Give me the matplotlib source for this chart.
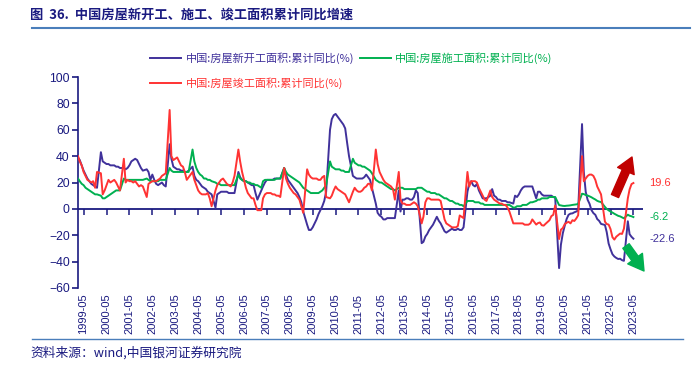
import matplotlib
matplotlib.use('Agg')
import matplotlib.pyplot as plt
import pandas as pd
from matplotlib.lines import Line2D

plt.rcParams['font.family'] = ['Liberation Sans', 'Noto Sans CJK SC', 'DejaVu Sans']

# ---------------- data (monthly, Feb..Dec each year; 2023 Feb..May) ----------------
years = list(range(1999, 2024))

new_starts = [
    39, 37, 33, 29, 26, 23, 21, 19, 18, 17, 16,            # 1999
    43, 36, 35, 34, 34, 33, 33, 33, 32, 32, 31,            # 2000
    31, 30, 31, 33, 36, 37, 38, 37, 34, 31, 29,            # 2001
    30, 28, 22, 26, 22, 19, 18, 19, 20, 18, 17,            # 2002
    49, 38, 32, 31, 30, 30, 29, 29, 28, 28, 29,            # 2003
    32, 25, 22, 21, 19, 17, 16, 15, 13, 12, 11,            # 2004
    1, 11, 12, 13, 13, 13, 13, 12, 12, 12, 12,             # 2005
    28, 24, 22, 21, 21, 20, 19, 18, 18, 12, 7,             # 2006
    14, 17, 20, 22, 22, 22, 22, 23, 23, 23, 23,            # 2007
    31, 26, 22, 20, 18, 16, 14, 12, 9, 5, -2,              # 2008
    -12, -16, -16, -14, -11, -8, -4, -1, 2, 6, 13,         # 2009
    60, 68, 71, 72, 70, 68, 66, 64, 61, 50, 40,            # 2010
    25, 24, 23, 23, 23, 23, 24, 26, 24, 22, 16,            # 2011
    4, -3, -5, -6, -8, -8, -7, -7, -7, -7, -7,             # 2012
    14, -2, 7, 7, 8, 8, 7, 7, 9, 14, 12,                   # 2013
    -26, -25, -21, -19, -16, -14, -12, -9, -6, -9, -11,    # 2014
    -17, -18, -17, -16, -15, -16, -16, -15, -16, -16, -14, # 2015
    13, 19, 21, 18, 17, 19, 14, 11, 8, 8, 8,               # 2016
    10, 15, 10, 9, 7, 7, 6, 6, 6, 5, 5,                    # 2017
    4, 10, 9, 11, 14, 16, 17, 17, 17, 17, 17,              # 2018
    8, 13, 13, 11, 10, 10, 10, 10, 10, 9, 8.5,             # 2019
    -44.9, -27.2, -18.4, -12.8, -7.6, -4.5, -3.6, -3.4, -2.6, -2.0, -1.2,   # 2020
    64.3, 28.2, 12.8, 6.9, 3.8, -0.9, -3.2, -4.5, -7.7, -9.1, -11.4,        # 2021
    -12.2, -17.5, -26.3, -30.6, -34.4, -36.1, -37.2, -38.0, -37.8, -38.9, -39.4,  # 2022
    -9.4, -19.2, -21.2, -22.6,                             # 2023
]

under_construction = [
    23, 21, 19, 18, 16, 15, 14, 13, 12, 11, 11,
    10, 8, 8, 9, 10, 11, 12, 13, 14, 14, 14,
    23, 22, 22, 22, 22, 22, 22, 22, 22, 22, 22,
    23, 22, 21, 21, 21, 21, 21, 22, 22, 22, 22,
    31, 29, 28, 28, 28, 28, 28, 28, 28, 28, 28,
    45, 36, 31, 28, 26, 25, 23, 23, 22, 22, 21,
    20, 19, 19, 18, 18, 18, 18, 18, 18, 18, 18,
    26, 23, 22, 21, 21, 20, 20, 19, 19, 18, 18,
    16, 21, 22, 22, 22, 22, 22, 22, 23, 23, 23,
    31, 28, 26, 25, 24, 23, 22, 21, 20, 18, 16,
    14, 13, 12, 12, 12, 12, 12, 13, 14, 16, 18,
    36, 32, 31, 30, 30, 30, 29, 29, 28, 28, 28,
    38, 35, 34, 33, 33, 32, 32, 31, 30, 29, 27,
    22, 21, 20, 20, 19, 18, 17, 16, 15, 15, 14,
    16, 16, 16, 15, 15, 15, 15, 15, 15, 15, 16,
    16, 15, 14, 13, 13, 12, 12, 12, 11, 11, 10,
    8, 8, 7, 6, 6, 5, 4, 4, 3, 3, 2,
    6, 6, 6, 6, 5, 5, 5, 4, 4, 3, 3,
    3, 3, 3, 3, 3, 3, 3, 3, 3, 3, 3,
    1, 1, 2, 2, 2, 3, 3, 3, 4, 5, 5,
    6, 7, 7, 8, 8, 8, 8, 9, 9, 9, 9,
    2.9, 2.6, 2.3, 2.2, 2.4, 2.5, 2.7, 3.0, 3.2, 3.4, 3.7,
    11.5, 11.2, 10.5, 10.1, 9.5, 8.8, 7.9, 7.1, 6.1, 5.5, 5.2,
    1.5, 0.0, -1.1, -2.0, -2.8, -3.7, -4.5, -5.3, -5.7, -6.5, -7.2,
    -4.4, -5.2, -5.6, -6.2,
]

completed = [
    40, 36, 33, 28, 25, 22, 21, 20, 21, 16, 28,
    27, 11, 14, 18, 22, 20, 21, 22, 20, 17, 14,
    38, 20, 22, 21, 21, 20, 21, 19, 17, 18, 17,
    9, 19, 20, 21, 21, 21, 22, 23, 25, 26, 27,
    75, 40, 37, 38, 39, 36, 33, 32, 28, 22, 24,
    28, 22, 18, 14, 12, 11, 11, 11, 12, 8, 2,
    14, 18, 20, 22, 23, 21, 19, 18, 17, 20, 25,
    45, 36, 28, 22, 16, 12, 10, 8, 8, 3, -1,
    -1, 8, 11, 12, 12, 12, 11, 11, 10, 10, 9,
    31, 23, 19, 16, 14, 12, 11, 9, 7, 2, -3,
    30, 26, 24, 23, 23, 23, 22, 22, 24, 25, 9,
    8, 10, 14, 17, 15, 14, 13, 12, 11, 8, 5,
    13, 16, 14, 13, 13, 14, 16, 17, 19, 19, 14,
    45, 34, 28, 25, 22, 20, 19, 18, 17, 15, 7,
    28, 7, 4, 4, 3, 3, 3, 4, 5, 4, 2,
    -11, -6, 5, 8, 8, 7, 7, 7, 7, 7, 6,
    -8, -11, -12, -13, -14, -14, -14, -13, -5, -6, -7,
    28, 17, 21, 21, 21, 20, 16, 13, 10, 7, 6,
    14, 9, 7, 6, 5, 4, 4, 3, 3, 1, -2,
    -11, -11, -11, -11, -11, -11, -12, -12, -12, -11, -8,
    -11.9, -10.8, -10.3, -12.4, -12.7, -11.3, -10.0, -8.6, -5.5, -4.5, 2.6,
    -22.9, -15.8, -14.5, -11.6, -10.5, -9.8, -11.0, -8.6, -9.2, -7.3, -4.9,
    40, 21, 23, 25, 26, 26, 25, 22, 17, 14, 11,
    -9.7, -11.5, -11.9, -15.3, -21.5, -23.3, -21.1, -19.9, -18.7, -19.0, -15.0,
    8.0, 14.7, 18.8, 19.6,
]

labels = ['中国:房屋新开工面积:累计同比(%)',
          '中国:房屋施工面积:累计同比(%)',
          '中国:房屋竣工面积:累计同比(%)']
tick_labels = [f'{y}-05' for y in years]
title = '图  36.  中国房屋新开工、施工、竣工面积累计同比增速'
source = '资料来源：wind,中国银河证券研究院'

dates = [pd.Timestamp(y, m, 1) for y in years for m in range(2, 13)
         if not (y == 2023 and m > 5)]
tick_dates = [pd.Timestamp(y, 5, 1) for y in years]

# ---------------- styling ----------------
BLUE = '#40319B'
GREEN = '#00B050'
RED = '#FF3333'
NAVY = '#1A1A80'
RULE = '#4A7EBB'
CJK = ['Noto Sans CJK SC', 'DejaVu Sans']

fig = plt.figure(figsize=(6.97, 3.65), dpi=100)
W, H = 697, 365
ax = fig.add_axes([78 / W, 1 - 288 / H, (643 - 78) / W, (288 - 77) / H])

l1, = ax.plot(dates, new_starts, color=BLUE, lw=1.4, zorder=3)
l2, = ax.plot(dates, under_construction, color=GREEN, lw=1.4, zorder=3)
l3, = ax.plot(dates, completed, color=RED, lw=1.4, zorder=4)

ax.set_ylim(-60, 100)
ax.set_xlim(pd.Timestamp(1999, 2, 1), pd.Timestamp(2023, 10, 1))
ax.set_yticks(range(-60, 101, 20))
ax.set_xticks(tick_dates)
ax.set_xticklabels(tick_labels, rotation=90, fontsize=8, color=NAVY)
for s in ['top', 'right', 'bottom']:
    ax.spines[s].set_visible(False)
ax.spines['left'].set_color(NAVY)
ax.spines['left'].set_linewidth(1.2)
ax.tick_params(axis='y', colors=NAVY, length=4, width=1.2, labelsize=8.8, pad=2)
ax.tick_params(axis='x', length=0, pad=4)

# zero axis with downward tick marks
ax.axhline(0, color=NAVY, lw=1.3, zorder=2)
ax.plot(tick_dates, [0] * len(tick_dates), ls='none', marker=3, ms=4.5,
        mew=1.1, color=NAVY, zorder=2, clip_on=False)

# end-value labels
for series, col in [(completed, RED), (under_construction, GREEN), (new_starts, BLUE)]:
    ax.annotate(f'{series[-1]:.1f}', xy=(dates[-1], series[-1]), xytext=(16, 0),
                textcoords='offset pixels', va='center', ha='left', fontsize=8,
                color=col, annotation_clip=False)

# arrows
ax.annotate('', xy=(632, H - 157), xytext=(615, H - 196), xycoords='figure pixels',
            textcoords='figure pixels',
            arrowprops=dict(arrowstyle='simple,head_width=0.65,head_length=0.55,tail_width=0.28',
                            color='#C00000', mutation_scale=20, shrinkA=0, shrinkB=0))
ax.annotate('', xy=(644, H - 271), xytext=(626, H - 246), xycoords='figure pixels',
            textcoords='figure pixels',
            arrowprops=dict(arrowstyle='simple,head_width=0.65,head_length=0.55,tail_width=0.28',
                            color=GREEN, mutation_scale=20, shrinkA=0, shrinkB=0))

# legend
leg = fig.legend([l1, l3, l2], [labels[0], labels[2], labels[1]], ncol=2,
                 loc='upper left', bbox_to_anchor=(150 / W, 1 - 52 / H),
                 frameon=False, prop={'family': CJK, 'size': 8},
                 handlelength=2.8, handletextpad=0.4, columnspacing=0.5,
                 labelspacing=1.2, borderpad=0, borderaxespad=0)
for txt, col in zip(leg.get_texts(), [BLUE, RED, GREEN]):
    txt.set_color(col)

# title, rules, source
fig.text(30 / W, 1 - 15 / H, title, fontsize=9.5, fontweight='bold', color=NAVY,
         family=CJK, va='center', ha='left')
fig.add_artist(Line2D([32 / W, 690 / W], [1 - 28 / H, 1 - 28 / H], color=RULE, lw=1.5))
fig.add_artist(Line2D([32 / W, 683 / W], [1 - 339 / H, 1 - 339 / H], color=RULE, lw=1.0))
fig.text(30 / W, 1 - 353 / H, source, fontsize=9.2, color=NAVY, family=CJK,
         style='italic', va='center', ha='left')

fig.savefig('out.png', dpi=100)
